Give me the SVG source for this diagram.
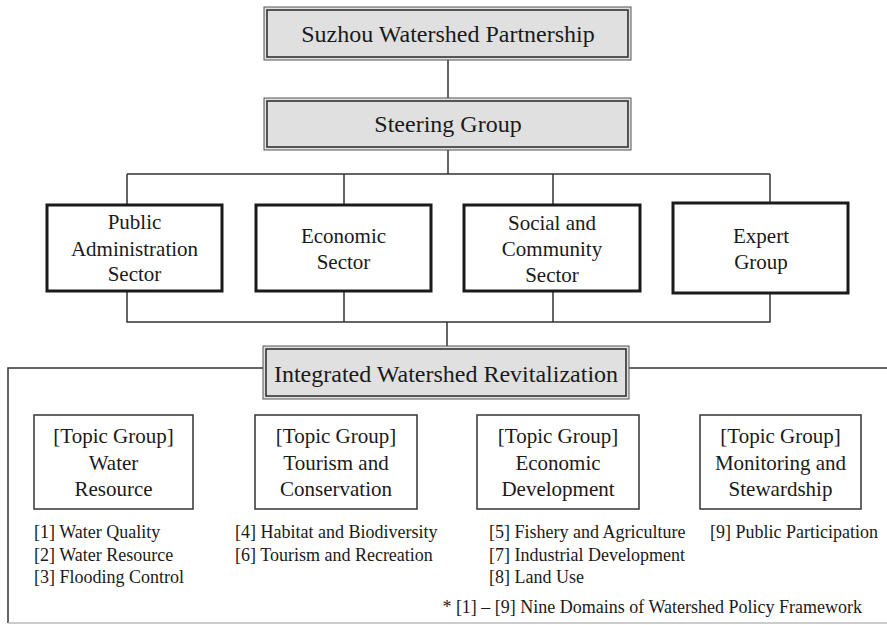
<svg xmlns="http://www.w3.org/2000/svg" width="887" height="625" viewBox="0 0 887 625">
<style>
.t24{font-size:24px;text-anchor:middle}
.t21{font-size:21px;text-anchor:middle}
.t18{font-size:18px;text-anchor:start}
.outer{fill:#e0e0e0;stroke:#555;stroke-width:1}
.inner{fill:none;stroke:#333;stroke-width:1.6}
.sector{fill:#fff;stroke:#1a1a1a;stroke-width:3}
.topic{fill:#fff;stroke:#333;stroke-width:1.5}
.conn{fill:none;stroke:#333;stroke-width:1.5}
</style>
<rect width="887" height="625" fill="#fff"/>
<g id="connectors">
<path class="conn" d="M448 60V98M448 150V174M127 174H770M127 174V205M344 174V205M553 174V205M770 174V203"/>
<path class="conn" d="M127 291V322H770V293M344 291V322M553 291V322M447 322V346"/>
<path class="conn" d="M263 368H8V623M629 368H887"/>
<path d="M8 623H887" stroke="#bbb" stroke-width="1.5"/>
</g>
<g font-family="'Liberation Serif', 'Times New Roman', serif" fill="#1a1a1a">
<g id="partnership">
<rect class="outer" x="264" y="7" width="367" height="53"/>
<rect class="inner" x="267" y="10" width="361" height="47"/>
<text class="t24" x="448" y="42">Suzhou Watershed Partnership</text>
</g>
<g id="steering">
<rect class="outer" x="264" y="98" width="367" height="52"/>
<rect class="inner" x="267" y="101" width="361" height="46"/>
<text class="t24" x="448" y="132">Steering Group</text>
</g>
<g id="public">
<rect class="sector" x="47" y="205" width="175" height="86"/>
<text class="t21" x="134.5" y="229">Public</text>
<text class="t21" x="134.5" y="256">Administration</text>
<text class="t21" x="134.5" y="281">Sector</text>
</g>
<g id="economic">
<rect class="sector" x="256" y="205" width="175" height="86"/>
<text class="t21" x="343.5" y="243">Economic</text>
<text class="t21" x="343.5" y="269">Sector</text>
</g>
<g id="social">
<rect class="sector" x="464" y="205" width="176" height="86"/>
<text class="t21" x="552" y="230">Social and</text>
<text class="t21" x="552" y="256">Community</text>
<text class="t21" x="552" y="282">Sector</text>
</g>
<g id="expert">
<rect class="sector" x="673" y="203" width="175" height="90"/>
<text class="t21" x="761" y="243">Expert</text>
<text class="t21" x="761" y="269">Group</text>
</g>
<g id="iwr">
<rect class="outer" x="263" y="346" width="366" height="53"/>
<rect class="inner" x="266" y="349" width="360" height="47"/>
<text class="t24" x="446" y="382">Integrated Watershed Revitalization</text>
</g>
<g id="topic-water">
<rect class="topic" x="34" y="415" width="159" height="94"/>
<text class="t21" x="113.5" y="443">[Topic Group]</text>
<text class="t21" x="113.5" y="470">Water</text>
<text class="t21" x="113.5" y="496">Resource</text>
<text class="t18" x="34" y="538">[1] Water Quality</text>
<text class="t18" x="34" y="561">[2] Water Resource</text>
<text class="t18" x="34" y="583">[3] Flooding Control</text>
</g>
<g id="topic-tourism">
<rect class="topic" x="255" y="415" width="162" height="94"/>
<text class="t21" x="336" y="443">[Topic Group]</text>
<text class="t21" x="336" y="470">Tourism and</text>
<text class="t21" x="336" y="496">Conservation</text>
<text class="t18" x="235" y="538">[4] Habitat and Biodiversity</text>
<text class="t18" x="235" y="561">[6] Tourism and Recreation</text>
</g>
<g id="topic-economic">
<rect class="topic" x="477" y="415" width="162" height="94"/>
<text class="t21" x="558" y="443">[Topic Group]</text>
<text class="t21" x="558" y="470">Economic</text>
<text class="t21" x="558" y="496">Development</text>
<text class="t18" x="489" y="538">[5] Fishery and Agriculture</text>
<text class="t18" x="489" y="561">[7] Industrial Development</text>
<text class="t18" x="489" y="583">[8] Land Use</text>
</g>
<g id="topic-monitoring">
<rect class="topic" x="700" y="415" width="161" height="94"/>
<text class="t21" x="780.5" y="443">[Topic Group]</text>
<text class="t21" x="780.5" y="470">Monitoring and</text>
<text class="t21" x="780.5" y="496">Stewardship</text>
<text class="t18" x="710" y="538">[9] Public Participation</text>
</g>
<g id="footnote">
<text class="t18" x="862" y="613" text-anchor="end" style="text-anchor:end">* [1] – [9] Nine Domains of Watershed Policy Framework</text>
</g>
</g>
</svg>
